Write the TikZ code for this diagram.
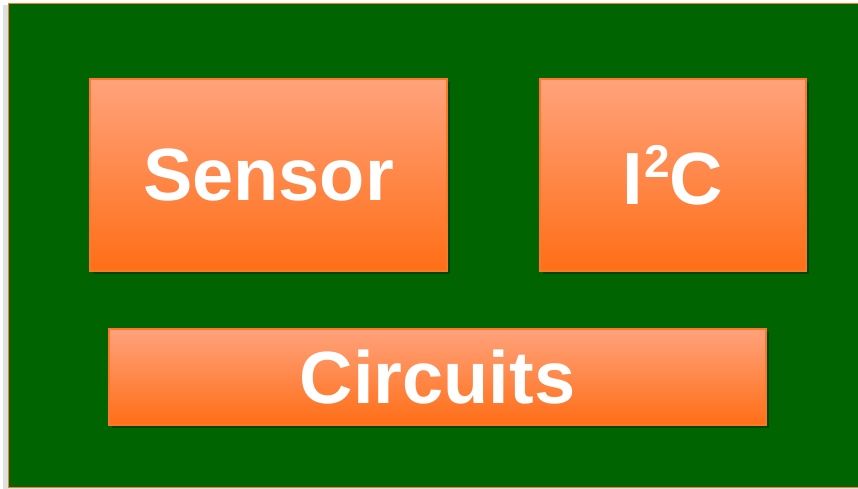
\documentclass[tikz,border=0pt]{standalone}
\usepackage{fontspec}
\setmainfont{Liberation Sans}
\usepackage{xcolor}
\usetikzlibrary{positioning, calc, shadows}
\definecolor{boardgreen}{RGB}{0,100,0}
\definecolor{blocktop}{RGB}{255,162,124}
\definecolor{blockbot}{RGB}{255,110,22}
\definecolor{blockedge}{RGB}{255,120,40}

\begin{document}
\begin{tikzpicture}[x=1pt, y=-1pt,
  block/.style={draw=blockedge, line width=1.5pt, top color=blocktop, bottom color=blockbot,
    text=white, font=\fontsize{74}{80}\bfseries\selectfont, inner sep=0pt,
    drop shadow={shadow xshift=3pt, shadow yshift=-3pt, fill=black, opacity=0.3}}]

\useasboundingbox (0,0) rectangle (858,488);

%% ── board (background) ───────────────────────────────────────────
\fill[black!12] (3,5) rectangle (860,490);
\draw[fill=boardgreen, draw=blockedge, line width=1.2pt] (8.5,3.5) rectangle (862,487.5);

%% ── blocks ───────────────────────────────────────────────────────
\node[block, minimum width=357pt, minimum height=192pt] (sensor) at (268.5,175) {Sensor};
\node[block, minimum width=266pt, minimum height=192pt] (iic) at (673,175)
  {I\kern1pt\raisebox{27pt}{\fontsize{46}{46}\bfseries\selectfont 2}C};
\node[block, minimum width=657pt, minimum height=96pt] (circuits) at (437.5,377) {Circuits};

\end{tikzpicture}
\end{document}
